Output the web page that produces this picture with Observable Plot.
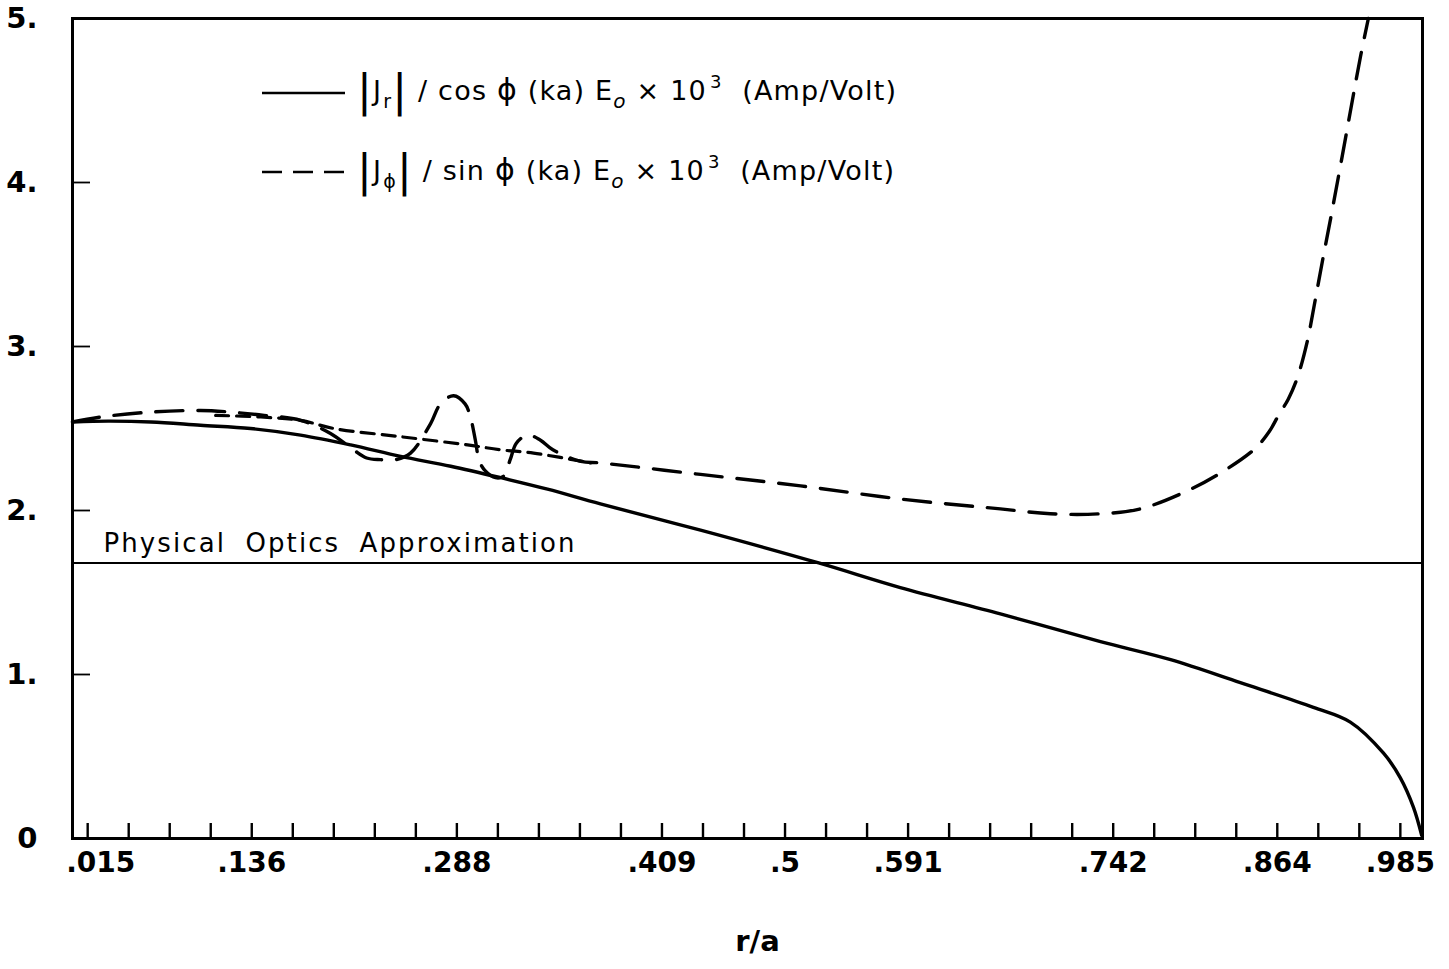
<!DOCTYPE html>
<html>
<head>
<meta charset="utf-8">
<script src="https://cdn.jsdelivr.net/npm/d3@7"></script>
<script src="https://cdn.jsdelivr.net/npm/@observablehq/plot@0.6"></script>
<style>
  html, body { margin: 0; padding: 0; background: #fff; }
  #chart svg { display: block; }
</style>
</head>
<body>
<div id="chart"></div>
<script>
// The r/a axis is drawn on a uniform station index (one tick per station);
// selected stations carry their r/a value as the tick label.
const stationCount = 33;
const labelStations = [0, 4, 9, 14, 17, 20, 25, 29, 32];
const labelTexts = [".015", ".136", ".288", ".409", ".5", ".591", ".742", ".864", ".985"];

const yTickValues = [0, 1, 2, 3, 4, 5];
const yTickTexts = ["0", "1.", "2.", "3.", "4.", "5."];

// Physical optics level
const physicalOptics = 1.68;
const physicalOpticsLabel = "Physical Optics Approximation";

// |J_r| / cos(phi) (ka) E_o x 10^3  (solid)
const jrStation = [-0.37, 0.5, 1.54, 2.75, 3.97, 5.19, 6.41, 7.63, 8.85, 10.07, 11.21, 12.5, 14.94, 17.82, 19.81, 22.25, 24.69, 26.4, 28.1, 29.88, 30.78, 31.59, 32.0, 32.32, 32.52];
const jrValue   = [2.54, 2.545, 2.54, 2.52, 2.5, 2.46, 2.4, 2.33, 2.27, 2.2, 2.13, 2.04, 1.88, 1.68, 1.53, 1.37, 1.2, 1.09, 0.95, 0.8, 0.71, 0.52, 0.37, 0.19, 0.02];

// |J_phi| / sin(phi) (ka) E_o x 10^3  (long dashes)
const jphiStation = [-0.37, 0.32, 1.54, 2.75, 3.49, 4.3, 5.19, 5.92, 6.48, 6.8, 7.14, 7.51, 7.87, 8.36, 8.6, 8.92, 9.2, 9.33, 9.45, 9.55, 9.7, 9.94, 10.14, 10.3, 10.45, 10.72, 11.03, 11.34, 12.02, 12.5, 14.94, 17.38, 19.81, 22.25, 23.47, 24.69, 25.66, 26.81, 27.69, 28.47, 28.8, 29.03, 29.27, 29.49, 29.73, 29.9, 30.1, 30.3, 30.59, 30.83, 31.03, 31.22];
const jphiValue   = [2.54, 2.57, 2.6, 2.61, 2.6, 2.58, 2.55, 2.47, 2.37, 2.32, 2.31, 2.31, 2.35, 2.53, 2.65, 2.7, 2.65, 2.57, 2.43, 2.3, 2.24, 2.2, 2.21, 2.31, 2.41, 2.46, 2.43, 2.37, 2.3, 2.29, 2.22, 2.15, 2.07, 2.01, 1.98, 1.98, 2.01, 2.12, 2.24, 2.38, 2.48, 2.58, 2.68, 2.81, 3.03, 3.25, 3.52, 3.78, 4.17, 4.5, 4.77, 5.0];

// smoothed |J_phi| through the oscillating stretch (short dashes)
const jphiSmoothStation = [3.12, 4.22, 5.19, 6.0, 7.63, 9.26, 10.07, 10.87, 12.26];
const jphiSmoothValue   = [2.58, 2.57, 2.55, 2.5, 2.45, 2.4, 2.37, 2.35, 2.29];

const toRows = (xs, ys) => xs.map((x, i) => ({x, y: ys[i]}));
const jr = toRows(jrStation, jrValue);
const jphi = toRows(jphiStation, jphiValue);
const jphiSmooth = toRows(jphiSmoothStation, jphiSmoothValue);
const xLabels = labelStations.map((s, i) => ({s, label: labelTexts[i]}));
const yLabels = yTickValues.map((v, i) => ({v, label: yTickTexts[i]}));
const stations = d3.range(stationCount);

const W = 1449, H = 969;
const mL = 72, mR = 27, mT = 18, mB = 131;
const innerW = W - mL - mR, innerH = H - mT - mB;
const font = "DejaVu Sans, sans-serif";

const chart = Plot.plot({
  width: W,
  height: H,
  marginLeft: mL,
  marginRight: mR,
  marginTop: mT,
  marginBottom: mB,
  x: {domain: [-0.37, 32.54], axis: null},
  y: {domain: [0, 5], axis: null},
  style: {fontFamily: font, color: "black", background: "white", overflow: "visible"},
  marks: [
    // inward ticks
    Plot.tickX(stations, {x: d => d, insetTop: innerH - 15, stroke: "black", strokeWidth: 2.4}),
    Plot.tickY(yTickValues.slice(1, 5), {y: d => d, insetRight: innerW - 18, stroke: "black", strokeWidth: 1.8}),
    // physical optics level
    Plot.ruleY([physicalOptics], {stroke: "black", strokeWidth: 2.2}),
    Plot.text([physicalOpticsLabel], {
      y: physicalOptics, frameAnchor: "left", textAnchor: "start", dx: 31, dy: -19,
      fontSize: 26, fill: "black", text: d => d
    }),
    // curves
    Plot.line(jr, {x: "x", y: "y", curve: "catmull-rom", stroke: "black", strokeWidth: 3.4}),
    Plot.line(jphiSmooth, {x: "x", y: "y", curve: "catmull-rom", stroke: "black", strokeWidth: 3.2, strokeDasharray: "13,8"}),
    Plot.line(jphi, {x: "x", y: "y", curve: "catmull-rom", stroke: "black", strokeWidth: 3.4, strokeDasharray: "27,15"}),
    // frame
    Plot.frame({stroke: "black", strokeWidth: 3}),
    // tick labels
    Plot.text(yLabels, {y: "v", text: "label", frameAnchor: "left", textAnchor: "end", dx: -35, fontSize: 29, fontWeight: "bold", fill: "black"}),
    Plot.text(xLabels.slice(0, 1), {x: "s", text: "label", frameAnchor: "bottom", dy: 33, dx: 13, fontSize: 28, fontWeight: "bold", fill: "black"}),
    Plot.text(xLabels.slice(1), {x: "s", text: "label", frameAnchor: "bottom", dy: 33, fontSize: 28, fontWeight: "bold", fill: "black"}),
    Plot.text(["r/a"], {frameAnchor: "bottom", dy: 112, dx: 10, fontSize: 29, fontWeight: "bold", fill: "black", text: d => d})
  ]
});

document.getElementById("chart").appendChild(chart);

const svg = d3.select(chart);

// wide hand-lettered spacing for the physical optics caption
svg.selectAll("text")
  .filter(function () { return this.textContent === physicalOpticsLabel; })
  .attr("letter-spacing", 2.1)
  .attr("word-spacing", 9);

// legend with sub/superscripts, placed in the upper-left of the plot area
const legend = svg.append("g")
  .attr("font-family", font)
  .attr("fill", "black")
  .attr("text-anchor", "start");

function legendEntry(g, yLine, yBase, dash, sym, fn) {
  g.append("line")
    .attr("x1", 262).attr("x2", 345).attr("y1", yLine).attr("y2", yLine)
    .attr("stroke", "black").attr("stroke-width", 2.6)
    .attr("stroke-dasharray", dash);
  const t = g.append("text")
    .attr("x", 357).attr("y", yBase)
    .attr("font-size", 27)
    .attr("letter-spacing", 1.2)
    .attr("text-anchor", "start");
  const span = (s, o = {}) => {
    const ts = t.append("tspan").text(s);
    for (const k in o) ts.attr(k, o[k]);
    return ts;
  };
  span("|", {"font-size": 44, dy: 6});
  span("J", {dy: -6});
  span(sym, {"font-size": 19, dy: 8, dx: 1});
  span("|", {"font-size": 44, dy: -2});
  span(" / " + fn + " ", {dy: -6});
  span("ϕ", {"font-size": 30});
  span(" (ka) E");
  span("o", {"font-size": 20, dy: 8, "font-style": "italic"});
  span(" × 10", {dy: -8});
  span("3", {"font-size": 18, dy: -12, dx: 3});
  span("  (Amp/Volt)", {dy: 12});
}

legendEntry(legend, 93, 100, null, "r", "cos");
legendEntry(legend, 172, 180, "20,11", "ϕ", "sin");
</script>
</body>
</html>
